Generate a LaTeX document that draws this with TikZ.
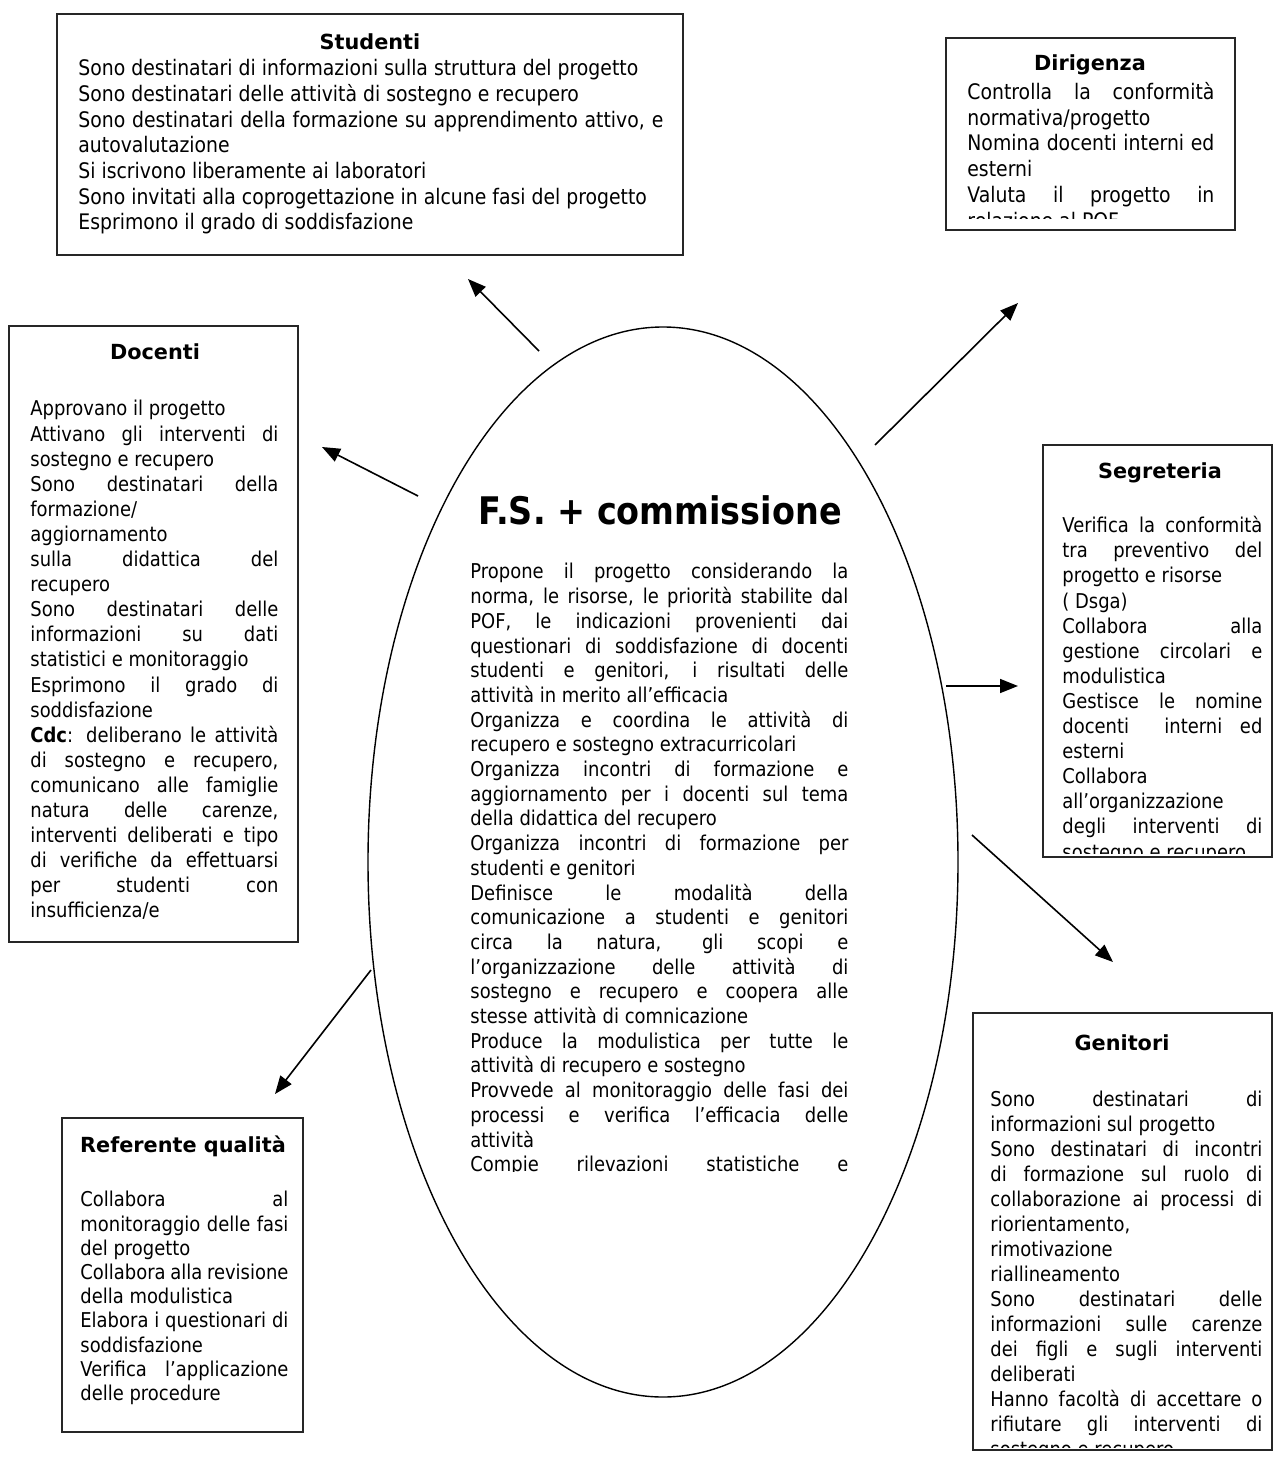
\documentclass[tikz,border=0pt]{standalone}
\usepackage{fontspec}
\setmainfont{DejaVu Sans}[FakeStretch=0.88]
\newfontfamily\ttlfont{DejaVu Sans}
\usetikzlibrary{shapes.geometric,arrows.meta}
\tikzset{
  box/.style={draw=black!85,line width=0.9pt,inner sep=0pt},
  txt/.style={anchor=north west,inner sep=0pt,align=justify,
    font=\fontsize{10.2pt}{12.5pt}\selectfont,
    execute at begin node={\hyphenpenalty=10000\parindent=0pt}},
  big/.style={font=\fontsize{10.7pt}{12.85pt}\selectfont},
  ttl/.style={font=\ttlfont\fontsize{10.4pt}{12.5pt}\selectfont\bfseries,inner sep=0pt},
  arr/.style={-{Triangle[length=9pt,width=7pt]},line width=0.8pt}
}
\begin{document}
\begin{tikzpicture}[x=0.5pt,y=-0.5pt]
\useasboundingbox (0,0) rectangle (1273,1472);
\node[box,minimum width=313pt,minimum height=120.5pt] (stud) at (370,134.5) {};
\node[box,minimum width=144.5pt,minimum height=96pt] (dir) at (1090.5,134) {};
\node[box,minimum width=144.5pt,minimum height=308pt] (doc) at (153.5,634) {};
\node[box,minimum width=114.5pt,minimum height=206pt] (seg) at (1157.5,651) {};
\node[box,minimum width=149.5pt,minimum height=218.5pt] (gen) at (1122.5,1231.5) {};
\node[box,minimum width=120.5pt,minimum height=157pt] (ref) at (182.5,1275) {};
\node[draw,ellipse,line width=0.7pt,minimum width=295pt,minimum height=535pt,inner sep=0pt] (fs) at (663,862) {};
% titoli
\node[ttl] (tstud) at (370,42) {Studenti};
\node[ttl] (tdir) at (1090,65) {Dirigenza};
\node[ttl] (tdoc) at (155,352) {Docenti};
\node[ttl] (tseg) at (1160,473) {Segreteria};
\node[ttl] (tgen) at (1122,1043) {Genitori};
\node[ttl] (tref) at (183,1146) {Referente qualità};
\node[font=\fontsize{19pt}{22pt}\selectfont\bfseries,inner sep=0pt] (tfs) at (660,510) {F.S. + commissione};
% testi
\node[txt,big,text width=292.5pt] (xstud) at (78,59) {Sono destinatari di informazioni sulla struttura del progetto\par
Sono destinatari delle attività di sostegno e recupero\par
Sono destinatari della formazione su apprendimento attivo, e\linebreak autovalutazione\par
Si iscrivono liberamente ai laboratori\par
Sono invitati alla coprogettazione in alcune fasi del progetto\par
Esprimono il grado di soddisfazione};
\begin{scope}
\clip (950,40) rectangle (1232,218);
\node[txt,big,text width=123.5pt] (xdir) at (967,82) {Controlla la conformità\linebreak normativa/progetto\par
Nomina docenti interni ed\linebreak esterni\par
Valuta il progetto in\linebreak relazione al POF};
\end{scope}
\node[txt,text width=124pt,font=\fontsize{10.2pt}{12.55pt}\selectfont] (xdoc) at (30,400) {Approvano il progetto\par
Attivano gli interventi di\linebreak sostegno e recupero\par
Sono destinatari della\linebreak formazione/\par
aggiornamento\par
sulla didattica del\linebreak recupero\par
Sono destinatari delle\linebreak informazioni su dati\linebreak statistici e monitoraggio\par
Esprimono il grado di\linebreak soddisfazione\par
\textbf{Cdc}: deliberano le attività\linebreak di sostegno e recupero,\linebreak comunicano alle famiglie\linebreak natura delle carenze,\linebreak interventi deliberati e tipo\linebreak di verifiche da effettuarsi\linebreak per studenti con\linebreak insufficienza/e};
\begin{scope}
\clip (1045,447) rectangle (1271,853);
\node[txt,text width=100pt,font=\fontsize{10.2pt}{12.55pt}\selectfont] (xseg) at (1062,516) {Verifica la conformità\linebreak tra preventivo del\linebreak progetto e risorse\par
( Dsga)\par
Collabora alla\linebreak gestione circolari e\linebreak modulistica\par
Gestisce le nomine\linebreak docenti\ \ interni ed\linebreak esterni\par
Collabora\linebreak all’organizzazione\linebreak degli interventi di\linebreak sostegno e recupero};
\end{scope}
\begin{scope}
\clip (975,1015) rectangle (1271,1447);
\node[txt,text width=136pt] (xgen) at (990,1091) {Sono destinatari di\linebreak informazioni sul progetto\par
Sono destinatari di incontri\linebreak di formazione sul ruolo di\linebreak collaborazione ai processi di\linebreak riorientamento,\par
rimotivazione\par
riallineamento\par
Sono destinatari delle\linebreak informazioni sulle carenze\linebreak dei figli e sugli interventi\linebreak deliberati\par
Hanno facoltà di accettare o\linebreak rifiutare gli interventi di\linebreak sostegno e recupero};
\end{scope}
\node[txt,text width=104pt,font=\fontsize{10.2pt}{12.1pt}\selectfont] (xref) at (80,1191) {Collabora al\linebreak monitoraggio delle fasi\linebreak del progetto\par
Collabora alla revisione\linebreak della modulistica\par
Elabora i questionari di\linebreak soddisfazione\par
Verifica l’applicazione\linebreak delle procedure};
\begin{scope}
\clip (460,550) rectangle (860,1171);
\node[txt,text width=189pt,font=\fontsize{10.2pt}{12.35pt}\selectfont] (xfs) at (470,563) {Propone il progetto considerando la\linebreak norma, le risorse, le priorità stabilite dal\linebreak POF, le indicazioni provenienti dai\linebreak questionari di soddisfazione di docenti\linebreak studenti e genitori, i risultati delle\linebreak attività in merito all’efficacia\par
Organizza e coordina le attività di\linebreak recupero e sostegno extracurricolari\par
Organizza incontri di formazione e\linebreak aggiornamento per i docenti sul tema\linebreak della didattica del recupero\par
Organizza incontri di formazione per\linebreak studenti e genitori\par
Definisce le modalità della\linebreak comunicazione a studenti e genitori\linebreak circa la natura, gli scopi e\linebreak l’organizzazione delle attività di\linebreak sostegno e recupero e coopera alle\linebreak stesse attività di comnicazione\par
Produce la modulistica per tutte le\linebreak attività di recupero e sostegno\par
Provvede al monitoraggio delle fasi dei\linebreak processi e verifica l’efficacia delle\linebreak attività\par
Compie rilevazioni statistiche e\linebreak\mbox{}};
\end{scope}
% frecce
\coordinate (s1) at (539,351); \coordinate (e1) at (468,279);
\coordinate (s2) at (875,445); \coordinate (e2) at (1018,303);
\coordinate (s3) at (418,496); \coordinate (e3) at (322,447);
\coordinate (s4) at (946,686); \coordinate (e4) at (1018,686);
\coordinate (s5) at (972,835); \coordinate (e5) at (1113,962);
\coordinate (s6) at (371,970); \coordinate (e6) at (275,1094);
\foreach \i in {1,...,6}
  \draw[arr] (s\i) -- (e\i);
\end{tikzpicture}
\end{document}
